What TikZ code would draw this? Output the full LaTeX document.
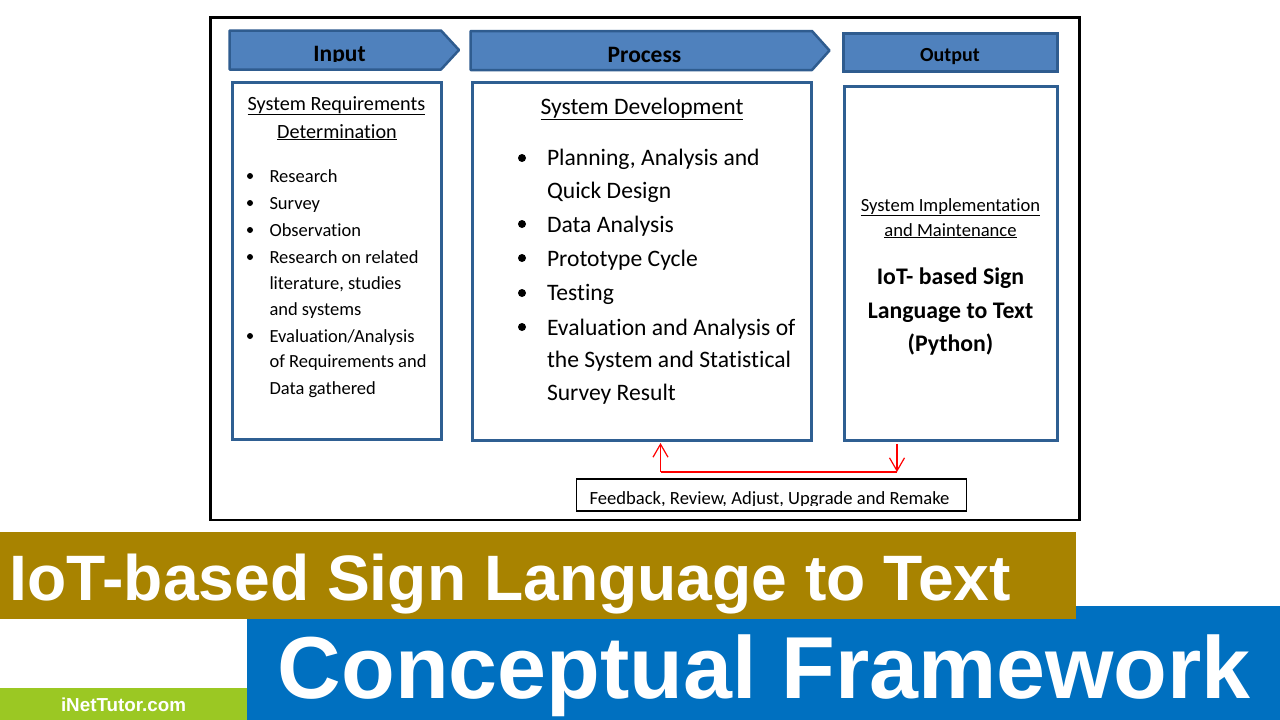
\documentclass[tikz,border=0pt]{standalone}
\usepackage{fontspec}
\setmainfont[Ligatures=NoCommon]{Carlito}
\newfontfamily\arialf{Liberation Sans}
\definecolor{hdrfill}{HTML}{4F81BD}
\definecolor{hdrline}{HTML}{2F5C8F}
\definecolor{boxline}{HTML}{2F5F92}
\definecolor{gold}{HTML}{A88300}
\definecolor{bluebar}{HTML}{0070C0}
\definecolor{greenbar}{HTML}{9BC823}
\usetikzlibrary{arrows.meta}
\tikzset{
 hdr/.style={draw=hdrline,line width=2.5pt,fill=hdrfill,line join=round},
 panel/.style={draw=boxline,line width=3pt,fill=white},
 tb/.style={anchor=base west,inner sep=0pt,outer sep=0pt,text=black},
 tc/.style={anchor=base,inner sep=0pt,outer sep=0pt,text=black},
 fb/.style={draw=red,line width=1.2pt},
 tip/.style={-{Straight Barb[length=13pt,width=15pt,line width=1.2pt]}},
 lab/.style={tc,font=\fontsize{23.5}{26}\selectfont\bfseries},
 flat/.style={inner sep=0pt,outer sep=0pt,anchor=north west},
}
\newcommand{\sA}{\fontsize{20.2}{23}\selectfont}
\newcommand{\sB}{\fontsize{23.6}{28}\selectfont}
\newcommand{\sC}{\fontsize{18.5}{21}\selectfont}
\newcommand{\sE}{\fontsize{18.6}{21}\selectfont}
\newcommand{\sD}{\fontsize{23.8}{28}\selectfont\bfseries}
\begin{document}
\begin{tikzpicture}[x=1pt,y=-1pt]
\useasboundingbox (0,0) rectangle (1280,720);
\fill[white] (0,0) rectangle (1280,720);
\draw[black,line width=2.5pt,fill=white] (210.5,17.5) rectangle (1079.5,520) ;
% headers
\draw[hdr] (229.5,30.5) -- (441,30.5) -- (459,50) -- (441,69.5) -- (229.5,69.5) -- cycle;
\draw[hdr] (470.5,31) -- (812,31) -- (829.5,50.5) -- (812,70) -- (470.5,70) -- cycle;
\node[flat,draw=hdrline,line width=2.5pt,fill=hdrfill,minimum width=214pt,minimum height=38pt] (outhdr) at (843.5,33.5) {};
\begin{scope}
\clip (229,30) rectangle (459,61.5);
\node[lab] (input) at (339.5,61) {Input};
\end{scope}
\begin{scope}
\clip (470,31) rectangle (830,63);
\node[lab] (process) at (644.5,62) {Process};
\end{scope}
\node[lab,font=\fontsize{20}{22}\selectfont\bfseries] (output) at (950,61) {Output};
% panels
\draw[panel] (232,82.5) rectangle (441.5,439);
\draw[panel] (472.5,82.5) rectangle (811.5,440.5);
\draw[panel] (844,86) rectangle (1057.5,440.5);
% input text
\node[tc,font=\sA] (t1) at (336.5,110) {\underline{System Requirements}};
\node[tc,font=\sA] (t2) at (337,138) {\underline{Determination}};
\foreach \n/\yy/\s in {a/182/{Research},b/209/{Survey},c/236/{Observation},d/263/{Research on related},e/289/{literature, studies},f/315/{and systems},g/342/{Evaluation{/}Analysis},h/367/{of Requirements and},i/394/{Data gathered}}{
 \node[tb,font=\sC] (in\n) at (269.5,\yy) {\s};
}
\foreach \yy in {176,203,230,257,336}{
 \fill[black] (250,\yy) circle (3pt);
}
% process text
\node[tc,font=\sB] (p0) at (642,114) {\underline{System Development}};
\foreach \n/\yy/\s in {a/165/{Planning, Analysis and},b/198/{Quick Design},c/232/{Data Analysis},d/266/{Prototype Cycle},e/300/{Testing},f/335/{Evaluation and Analysis of},g/367/{the System and Statistical},h/400/{Survey Result}}{
 \node[tb,font=\sB] (pr\n) at (547,\yy) {\s};
}
\foreach \yy in {158,224,258,293,327}{
 \fill[black] (522,\yy) circle (4pt);
}
% output text
\node[tc,font=\sE] (o1) at (950.5,211) {\underline{System Implementation}};
\node[tc,font=\sE] (o2) at (950.5,236) {\underline{and Maintenance}};
\node[tc,font=\sD] (o3) at (950.5,284) {IoT- based Sign};
\node[tc,font=\sD] (o4) at (950.5,318) {Language to Text};
\node[tc,font=\sD] (o5) at (950.5,351) {(Python)};
% feedback
\node[flat,draw=black,line width=1.3pt,fill=white,minimum width=390pt,minimum height=32pt] (fb) at (576.5,479) {};
\begin{scope}
\clip (578,480) rectangle (965,505.5);
\node[tc,font=\sE] (fbt) at (769.5,504) {Feedback, Review, Adjust, Upgrade and Remake};
\end{scope}
\coordinate (elbowL) at (660.5,472);
\coordinate (elbowR) at (897,472);
\coordinate (pbot) at (660.5,443);
\coordinate (obot) at (897,444);
\draw[fb,tip] (elbowL) -- (pbot);
\draw[fb] (elbowL) -- (elbowR);
\draw[fb,tip] (obot) -- (elbowR);
% banners
\node[flat,fill=bluebar,minimum width=1033pt,minimum height=114pt] (bb) at (247,606) {};
\node[flat,fill=gold,minimum width=1076pt,minimum height=87pt] (gb) at (0,532) {};
\node[flat,fill=greenbar,minimum width=247pt,minimum height=32pt] (gr) at (0,688) {};
\node[anchor=base west,inner sep=0pt,text=white,font=\arialf\bfseries\fontsize{64.2}{70}\selectfont] (title1) at (9.5,600) {IoT-based Sign Language to Text};
\node[anchor=base west,inner sep=0pt,text=white,font=\arialf\bfseries\fontsize{88}{92}\selectfont] (title2) at (277.5,698.5) {Conceptual Framework};
\node[anchor=base,inner sep=0pt,text=white,font=\arialf\bfseries\fontsize{18.8}{22}\selectfont] (brand) at (123.5,711) {iNetTutor.com};
\end{tikzpicture}
\end{document}
